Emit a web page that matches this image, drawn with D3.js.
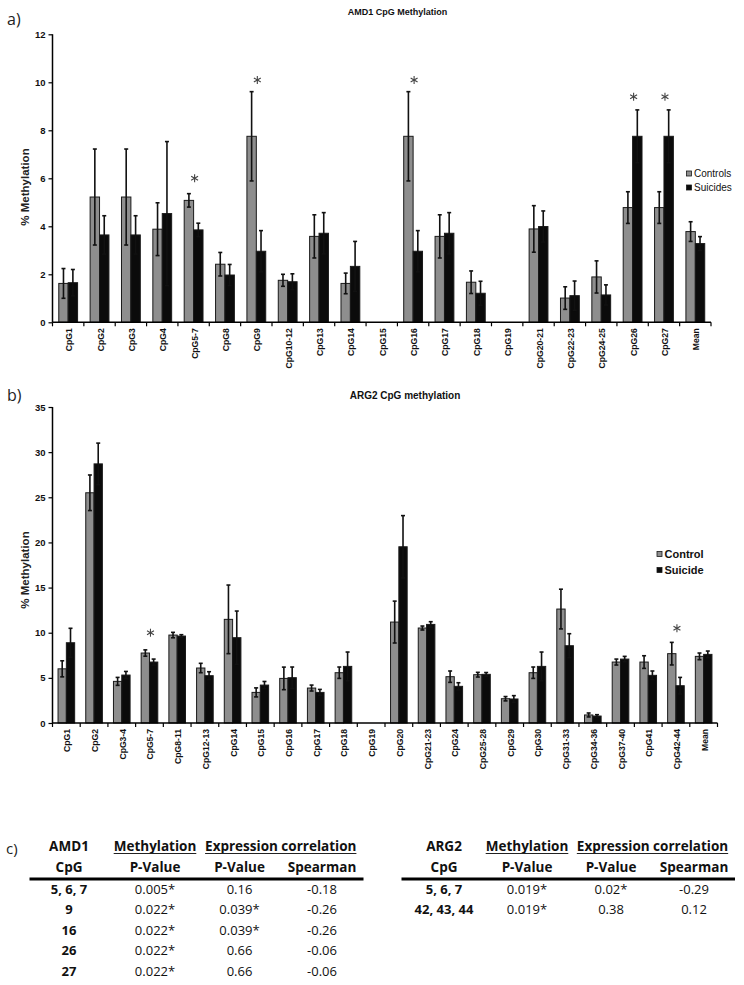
<!DOCTYPE html>
<html>
<head>
<meta charset="utf-8">
<script src="https://cdn.jsdelivr.net/npm/d3@7/dist/d3.min.js"></script>
<style>
  html, body { margin: 0; padding: 0; background: #fff; }
  svg { display: block; }
</style>
</head>
<body>
<svg id="fig" width="744" height="985"></svg>
<script>
// ---------------- DATA ----------------
const amd1Categories = ["CpG1","CpG2","CpG3","CpG4","CpG5-7","CpG8","CpG9","CpG10-12","CpG13","CpG14","CpG15","CpG16","CpG17","CpG18","CpG19","CpG20-21","CpG22-23","CpG24-25","CpG26","CpG27","Mean"];
const amd1Controls    = [1.62, 5.22, 5.22, 3.88, 5.08, 2.42, 7.75, 1.75, 3.58, 1.62, null, 7.75, 3.58, 1.67, null, 3.89, 1.01, 1.89, 4.78, 4.78, 3.78];
const amd1ControlsErr = [0.62, 2.00, 2.00, 1.10, 0.28, 0.49, 1.86, 0.25, 0.90, 0.43, null, 1.86, 0.90, 0.47, null, 0.97, 0.47, 0.67, 0.66, 0.66, 0.41];
const amd1Suicides    = [1.65, 3.64, 3.64, 4.53, 3.85, 1.97, 2.96, 1.69, 3.71, 2.33, null, 2.96, 3.71, 1.21, null, 3.99, 1.11, 1.14, 7.75, 7.75, 3.28];
const amd1SuicidesErr = [0.55, 0.80, 0.80, 3.00, 0.28, 0.44, 0.86, 0.33, 0.86, 1.04, null, 0.86, 0.86, 0.50, null, 0.65, 0.61, 0.42, 1.10, 1.10, 0.29];
const amd1Ticks = [0, 2, 4, 6, 8, 10, 12];
const amd1StarCats = ["CpG5-7", "CpG9", "CpG16", "CpG26", "CpG27"];
const amd1StarY    = [6.0, 10.1, 10.1, 9.4, 9.4];
const amd1Legend = ["Controls", "Suicides"];

const arg2Categories = ["CpG1","CpG2","CpG3-4","CpG5-7","CpG8-11","CpG12-13","CpG14","CpG15","CpG16","CpG17","CpG18","CpG19","CpG20","CpG21-23","CpG24","CpG25-28","CpG29","CpG30","CpG31-33","CpG34-36","CpG37-40","CpG41","CpG42-44","Mean"];
const arg2Control    = [6.00, 25.50, 4.61, 7.75, 9.74, 6.09, 11.48, 3.39, 4.94, 3.87, 5.57, null, 11.18, 10.52, 5.13, 5.35, 2.69, 5.57, 12.62, 0.89, 6.75, 6.75, 7.68, 7.38];
const arg2ControlErr = [0.89, 1.97, 0.44, 0.35, 0.30, 0.52, 3.80, 0.50, 1.25, 0.33, 0.63, null, 2.32, 0.22, 0.63, 0.26, 0.24, 0.63, 2.20, 0.22, 0.33, 0.70, 1.25, 0.37];
const arg2Suicide    = [8.89, 28.70, 5.31, 6.75, 9.63, 5.24, 9.45, 4.20, 5.02, 3.39, 6.27, null, 19.52, 10.92, 4.06, 5.39, 2.66, 6.27, 8.56, 0.77, 7.08, 5.28, 4.13, 7.60];
const arg2SuicideErr = [1.60, 2.30, 0.40, 0.33, 0.15, 0.44, 2.95, 0.40, 1.18, 0.33, 1.59, null, 3.45, 0.30, 0.40, 0.20, 0.37, 1.59, 1.33, 0.15, 0.30, 0.48, 0.92, 0.37];
const arg2Ticks = [0, 5, 10, 15, 20, 25, 30, 35];
const arg2StarCats = ["CpG5-7", "CpG42-44"];
const arg2StarY    = [10.0, 10.5];
const arg2Legend = ["Control", "Suicide"];

const tableHeader1 = ["Methylation", "Expression correlation"];
const tableHeader2 = ["CpG", "P-Value", "P-Value", "Spearman"];
const amd1TableRows = [
  ["5, 6, 7", "0.005*", "0.16", "-0.18"],
  ["9", "0.022*", "0.039*", "-0.26"],
  ["16", "0.022*", "0.039*", "-0.26"],
  ["26", "0.022*", "0.66", "-0.06"],
  ["27", "0.022*", "0.66", "-0.06"]
];
const arg2TableRows = [
  ["5, 6, 7", "0.019*", "0.02*", "-0.29"],
  ["42, 43, 44", "0.019*", "0.38", "0.12"]
];

// ---------------- DRAWING ----------------
const svg = d3.select("#fig");
const GRAY = "#8e8e8e", BLACK = "#0b0b0b", OUTLINE = "#1a1a1a";
const chartFont = "'Liberation Sans', Arial, sans-serif";
const tableFont = "'Open Sans', 'Noto Sans', sans-serif";

function drawChart(o) {
  const g = svg.append("g");
  const x = d3.scaleBand().domain(o.cats).range([o.x0, o.x1]).paddingInner(0).paddingOuter(0);
  const y = d3.scaleLinear().domain([0, o.ticks[o.ticks.length - 1]]).range([o.yZero, o.yTop]);
  const bw = x.bandwidth() * 0.3;

  const series = [
    { vals: o.c, errs: o.ce, fill: GRAY, off: -bw },
    { vals: o.s, errs: o.se, fill: BLACK, off: 0 }
  ];

  series.forEach(sr => {
    const data = o.cats.map((c, i) => ({ c, v: sr.vals[i], e: sr.errs[i] })).filter(d => d.v != null);
    g.selectAll(null).data(data).enter().append("rect")
      .attr("x", d => x(d.c) + x.bandwidth() / 2 + sr.off)
      .attr("y", d => y(d.v))
      .attr("width", bw)
      .attr("height", d => y(0) - y(d.v))
      .attr("fill", sr.fill)
      .attr("stroke", OUTLINE)
      .attr("stroke-width", 1);
  });
  series.forEach(sr => {
    const data = o.cats.map((c, i) => ({ c, v: sr.vals[i], e: sr.errs[i] })).filter(d => d.v != null);
    const cx = d => x(d.c) + x.bandwidth() / 2 + sr.off + bw / 2;
    const eg = g.selectAll(null).data(data).enter().append("g")
      .attr("stroke", "#111").attr("stroke-width", 1.6);
    eg.append("line").attr("x1", cx).attr("x2", cx)
      .attr("y1", d => y(d.v + d.e)).attr("y2", d => y(Math.max(0, d.v - d.e)));
    eg.append("line").attr("x1", d => cx(d) - 2).attr("x2", d => cx(d) + 2)
      .attr("y1", d => y(d.v + d.e)).attr("y2", d => y(d.v + d.e));
    eg.append("line").attr("x1", d => cx(d) - 2).attr("x2", d => cx(d) + 2)
      .attr("y1", d => y(Math.max(0, d.v - d.e))).attr("y2", d => y(Math.max(0, d.v - d.e)));
  });

  // y axis
  const ya = g.append("g").attr("transform", `translate(${o.x0},0)`)
    .call(d3.axisLeft(y).tickValues(o.ticks).tickSize(4).tickPadding(3).tickFormat(d3.format("d")));
  ya.select(".domain").attr("stroke", "#000").attr("stroke-width", 1.5).attr("d", `M0,${o.yZero}V${o.yTop}`);
  ya.selectAll(".tick line").attr("stroke", "#000").attr("stroke-width", 1.2);
  ya.selectAll(".tick text").attr("font-family", chartFont).attr("font-weight", "bold")
    .attr("font-size", 9.5).attr("fill", "#111");

  // x axis
  const xa = g.append("g");
  xa.append("line").attr("x1", o.x0).attr("x2", o.x1).attr("y1", o.yZero).attr("y2", o.yZero)
    .attr("stroke", "#000").attr("stroke-width", 1.5);
  const bounds = o.cats.map(c => x(c)).concat([o.x1]);
  xa.selectAll(null).data(bounds).enter().append("line")
    .attr("x1", d => d).attr("x2", d => d).attr("y1", o.yZero).attr("y2", o.yZero + 4)
    .attr("stroke", "#000").attr("stroke-width", 1.2);
  xa.selectAll(null).data(o.cats).enter().append("text")
    .attr("transform", c => `translate(${x(c) + x.bandwidth() / 2 + 1},${o.yZero + 6}) rotate(-90)`)
    .attr("text-anchor", "end").attr("dy", "0.35em")
    .attr("font-family", chartFont).attr("font-weight", "bold").attr("font-size", 8.6).attr("fill", "#111")
    .text(c => c);

  // stars
  o.starCats.forEach((c, i) => {
    const sx = x(c) + x.bandwidth() / 2 + 1, sy = y(o.starY[i]);
    const r = 4;
    const sg = g.append("g").attr("stroke", "#444").attr("stroke-width", 1.1);
    [90, 30, 150].forEach(a => {
      const rad = a * Math.PI / 180;
      sg.append("line").attr("x1", sx - r * Math.cos(rad)).attr("y1", sy - r * Math.sin(rad))
        .attr("x2", sx + r * Math.cos(rad)).attr("y2", sy + r * Math.sin(rad));
    });
  });

  // y label
  g.append("text").attr("transform", `translate(${o.yLabelX},${o.yLabelY}) rotate(-90)`)
    .attr("text-anchor", "middle").attr("dy", "0.35em")
    .attr("font-family", chartFont).attr("font-weight", "bold").attr("font-size", 11.5).attr("fill", "#222")
    .text("% Methylation");

  // title
  g.append("text").attr("x", o.titleX).attr("y", o.titleY).attr("text-anchor", "middle")
    .attr("font-family", chartFont).attr("font-weight", "bold").attr("font-size", o.titleSize).attr("fill", "#111")
    .text(o.title);

  // panel label
  g.append("text").attr("x", 7).attr("y", o.panelY)
    .attr("font-family", tableFont).attr("font-size", 16).attr("fill", "#222")
    .text(o.panel);

  // legend
  const lg = g.append("g");
  [GRAY, BLACK].forEach((col, i) => {
    lg.append("rect").attr("x", o.legX).attr("y", o.legY + i * o.legDy - 2.5)
      .attr("width", 5).attr("height", 5).attr("fill", col).attr("stroke", OUTLINE).attr("stroke-width", 0.8);
    lg.append("text").attr("x", o.legX + 7.5).attr("y", o.legY + i * o.legDy).attr("dy", "0.35em")
      .attr("font-family", chartFont).attr("font-weight", o.legWeight).attr("font-size", o.legSize).attr("fill", "#111")
      .text(o.legend[i]);
  });
}

drawChart({
  cats: amd1Categories, c: amd1Controls, ce: amd1ControlsErr, s: amd1Suicides, se: amd1SuicidesErr,
  ticks: amd1Ticks, x0: 52.5, x1: 711, yZero: 322.3, yTop: 34.3,
  starCats: amd1StarCats, starY: amd1StarY,
  yLabelX: 25, yLabelY: 187,
  title: "AMD1 CpG Methylation", titleX: 397.5, titleY: 15, titleSize: 9,
  panel: "a)", panelY: 25,
  legend: amd1Legend, legX: 686.5, legY: 173.5, legDy: 14, legSize: 10, legWeight: "normal"
});

drawChart({
  cats: arg2Categories, c: arg2Control, ce: arg2ControlErr, s: arg2Suicide, se: arg2SuicideErr,
  ticks: arg2Ticks, x0: 52.5, x1: 717.5, yZero: 723, yTop: 407,
  starCats: arg2StarCats, starY: arg2StarY,
  yLabelX: 25, yLabelY: 570,
  title: "ARG2 CpG methylation", titleX: 405, titleY: 398.5, titleSize: 10,
  panel: "b)", panelY: 401,
  legend: arg2Legend, legX: 657, legY: 554, legDy: 16, legSize: 11, legWeight: "bold"
});

// ---------------- TABLES ----------------
svg.append("text").attr("x", 6).attr("y", 854).attr("font-family", tableFont)
  .attr("font-size", 15).attr("fill", "#222").text("c)");

function drawTable(o) {
  const g = svg.append("g").attr("font-family", tableFont).attr("fill", "#111");
  const colX = o.colX; // centers of 4 columns
  const hdr1Y = 851, hdr2Y = 872;
  // gene name
  g.append("text").attr("x", colX[0]).attr("y", hdr1Y).attr("text-anchor", "middle")
    .attr("font-weight", "bold").attr("font-size", 13.5).text(o.gene);
  // underlined group headers
  [[tableHeader1[0], colX[1]], [tableHeader1[1], (colX[2] + colX[3]) / 2]].forEach(([t, cx]) => {
    const tx = g.append("text").attr("x", cx).attr("y", hdr1Y).attr("text-anchor", "middle")
      .attr("font-weight", "bold").attr("font-size", 13.5).text(t);
    const w = tx.node().getComputedTextLength();
    g.append("line").attr("x1", cx - w / 2).attr("x2", cx + w / 2).attr("y1", hdr1Y + 2.5).attr("y2", hdr1Y + 2.5)
      .attr("stroke", "#222").attr("stroke-width", 1);
  });
  tableHeader2.forEach((t, i) => {
    g.append("text").attr("x", colX[i]).attr("y", hdr2Y).attr("text-anchor", "middle")
      .attr("font-weight", "bold").attr("font-size", 13.5).text(t);
  });
  g.append("line").attr("x1", o.ruleX0).attr("x2", o.ruleX1).attr("y1", 879).attr("y2", 879)
    .attr("stroke", "#000").attr("stroke-width", 3);
  o.rows.forEach((r, ri) => {
    r.forEach((t, ci) => {
      g.append("text").attr("x", colX[ci]).attr("y", 893.5 + ri * 20.6).attr("text-anchor", "middle")
        .attr("font-weight", ci === 0 ? "bold" : "normal").attr("font-size", 13).text(t);
    });
  });
}

drawTable({ gene: "AMD1", colX: [69, 155, 239.5, 322], rows: amd1TableRows, ruleX0: 29.5, ruleX1: 363.5 });
drawTable({ gene: "ARG2", colX: [444, 527, 611, 694], rows: arg2TableRows, ruleX0: 401.5, ruleX1: 735 });
</script>
</body>
</html>
